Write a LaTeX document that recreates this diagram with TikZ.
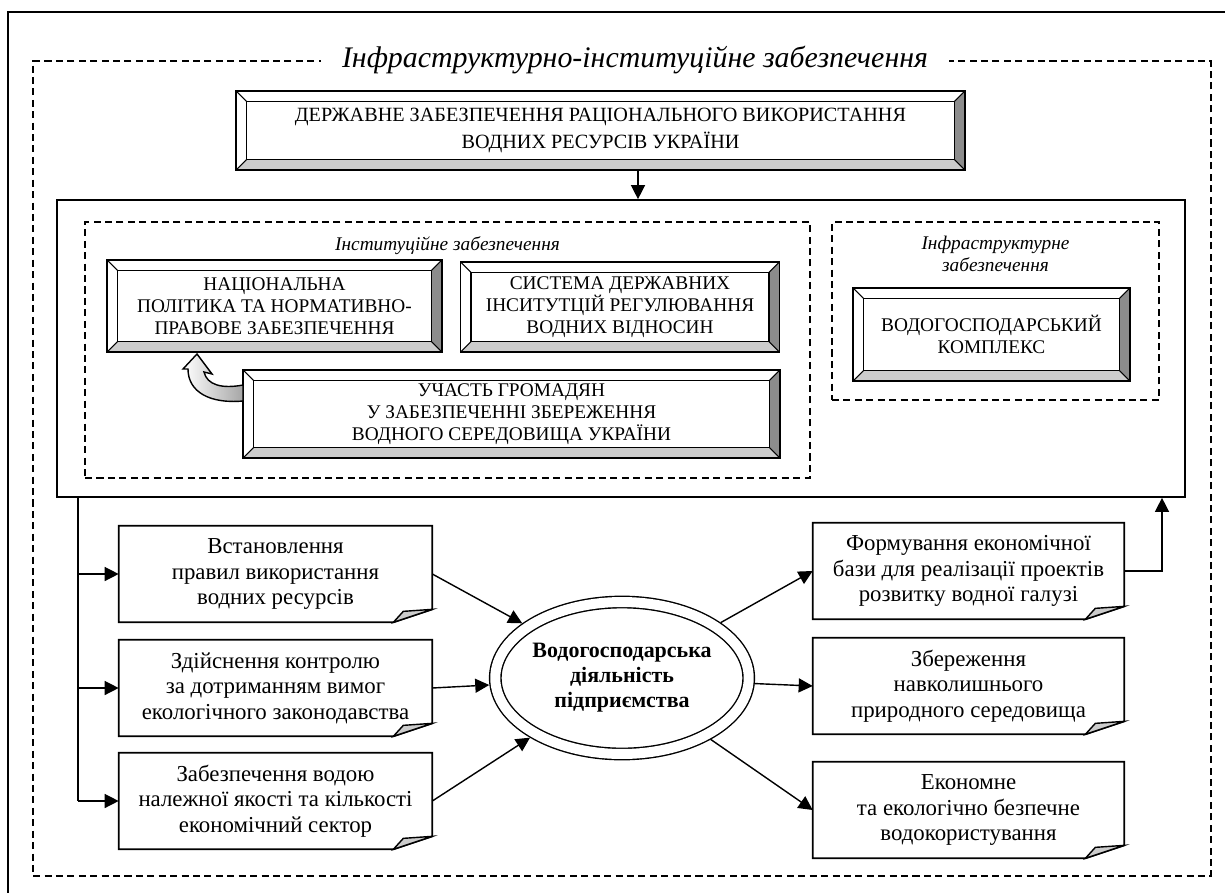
\documentclass[tikz,border=0pt]{standalone}
\usepackage{fontspec}
\setmainfont{Liberation Serif}
\usetikzlibrary{arrows.meta, positioning, shapes.geometric}

\begin{document}
\begin{tikzpicture}[x=0.02cm, y=-0.02cm,
    bevel/.style={draw, line width=1pt, inner sep=0pt, align=center,
                  font=\fontsize{11}{12.5}\selectfont,
                  path picture={
                    \coordinate (bsw) at (path picture bounding box.south west);
                    \coordinate (bse) at (path picture bounding box.south east);
                    \coordinate (bne) at (path picture bounding box.north east);
                    \coordinate (bnw) at (path picture bounding box.north west);
                    \fill[black!45] (bne) -- ++(-0.21cm,-0.21cm)
                      -- ([shift={(-0.21cm,0.21cm)}]bse) -- (bse) -- cycle;
                    \fill[black!20] (bse) -- ++(-0.21cm,0.21cm)
                      -- ([shift={(0.21cm,0.21cm)}]bsw) -- (bsw) -- cycle;
                    \draw[line width=0.8pt] ([shift={(0.21cm,0.21cm)}]bsw)
                      rectangle ([shift={(-0.21cm,-0.21cm)}]bne);
                    \draw[line width=0.6pt] (bsw) -- ++(0.21cm,0.21cm)
                      (bse) -- ++(-0.21cm,0.21cm) (bne) -- ++(-0.21cm,-0.21cm)
                      (bnw) -- ++(0.21cm,-0.21cm);
                  }},
    note/.style={inner sep=0pt, align=center, minimum width=6.26cm,
                 minimum height=1.92cm, font=\fontsize{13}{14.5}\selectfont},
    dbox/.style={draw, line width=0.9pt, dash pattern=on 4pt off 2.5pt,
                 inner sep=0pt},
    hdr/.style={align=center, font=\itshape\fontsize{11}{12.5}\selectfont},
    arr/.style={-{Triangle[length=2.8mm, width=2.8mm]}, line width=0.8pt},
  ]
    \useasboundingbox (0,0) rectangle (1225,893);
    \draw[line width=1pt] (8,893) |- (1225,12);

    % === Outer dashed frame ===
    \node[dbox, minimum width=23.56cm, minimum height=16.3cm] (frame) at (622,468.5) {};
    \node[fill=white, inner xsep=12pt, font=\itshape\fontsize{17}{20}\selectfont] (ttl)
      at (635,60) {Інфраструктурно-інституційне забезпечення};

    % Top box
    \node[bevel, minimum width=14.58cm, minimum height=1.58cm,
          font=\fontsize{11.5}{15}\selectfont] (ders) at (600.5,130.5)
      {ДЕРЖАВНЕ ЗАБЕЗПЕЧЕННЯ РАЦІОНАЛЬНОГО ВИКОРИСТАННЯ\\ВОДНИХ РЕСУРСІВ УКРАЇНИ};

    % Main box
    \node[draw, line width=1pt, inner sep=0pt, minimum width=22.56cm,
          minimum height=5.94cm] (main) at (621,348.5) {};
    \coordinate (ax) at (638,0);
    \draw[arr] (ders.south -| ax) -- (main.north -| ax);

    % === Institutional / infrastructure groups ===
    \node[dbox, minimum width=14.5cm, minimum height=5.12cm] (inst) at (447.5,350) {};
    \node[dbox, minimum width=6.54cm, minimum height=3.56cm] (infra) at (995.5,311) {};
    \node[hdr, below=5pt of inst.north] (instl) {Інституційне забезпечення};
    \node[hdr, below=5pt of infra.north] (infral) {Інфраструктурне\\забезпечення};

    \node[bevel, minimum width=6.7cm, minimum height=1.84cm] (nac) at (274.5,306)
      {НАЦІОНАЛЬНА\\ПОЛІТИКА ТА НОРМАТИВНО-\\ПРАВОВЕ ЗАБЕЗПЕЧЕННЯ};
    \node[bevel, minimum width=6.38cm, minimum height=1.8cm] (sys) at (620,307)
      {СИСТЕМА ДЕРЖАВНИХ\\ІНСИТУТЦІЙ РЕГУЛЮВАННЯ\\ВОДНИХ ВІДНОСИН};
    \node[bevel, minimum width=10.74cm, minimum height=1.76cm] (uch) at (511.5,414)
      {УЧАСТЬ ГРОМАДЯН\\У ЗАБЕЗПЕЧЕННІ ЗБЕРЕЖЕННЯ\\ВОДНОГО СЕРЕДОВИЩА УКРАЇНИ};
    \node[bevel, minimum width=5.54cm, minimum height=1.86cm] (vod) at (991.5,334.5)
      {ВОДОГОСПОДАРСЬКИЙ\\КОМПЛЕКС};

    % curved block arrow
    \shadedraw[line width=0.8pt, left color=white, middle color=white, right color=black!35]
      (243,401) .. controls (210,404) and (188,392) .. (188,369) -- (183,369)
      -- (197,354) -- (212,374) -- (204,372)
      .. controls (207,385) and (222,389) .. (243,385) -- cycle;

    % === Lower part ===
    \node[note] (vst) at (275.5,574) {Встановлення\\правил використання\\водних ресурсів};
    \node[note] (zd) at (275.5,688) {Здійснення контролю\\за дотриманням вимог\\екологічного законодавства};
    \node[note] (zab) at (275.5,801) {Забезпечення водою\\належної якості та кількості\\економічний сектор};

    \node[note, minimum width=6.22cm] (form) at (968.5,571)
      {Формування економічної\\бази для реалізації проектів\\розвитку водної галузі};
    \node[note, minimum width=6.22cm] (zber) at (968.5,686)
      {Збереження\\навколишнього\\природного середовища};
    \node[note, minimum width=6.22cm] (ek) at (968.5,810)
      {Економне\\та екологічно безпечне\\водокористування};

    \foreach \n in {vst,zd,zab,form,zber,ek}{
      \draw[line width=1pt] (\n.north west) -- (\n.north east)
        -- ([yshift=0.26cm]\n.south east) -- ([xshift=-0.78cm]\n.south east)
        -- (\n.south west) -- cycle;
      \filldraw[fill=black!20, line width=0.8pt] ([xshift=-0.78cm]\n.south east)
        -- ([shift={(-0.58cm,0.22cm)}]\n.south east) -- ([yshift=0.26cm]\n.south east) -- cycle;
    }

    \node[draw, ellipse, double, double distance=0.2cm, line width=0.8pt,
          minimum width=5.04cm, minimum height=3.04cm, inner sep=0pt, outer sep=0.13cm,
          align=center, font=\bfseries\fontsize{12.5}{14.2}\selectfont] (ell) at (622,678)
      {Водогосподарська\\діяльність\\підприємства};

    % arrows in / out
    \coordinate (lx) at (78,0);
    \draw[line width=0.8pt] (main.south -| lx) -- (lx |- zab.west);
    \foreach \n in {vst,zd,zab}
      \draw[arr] (lx |- \n.west) -- (\n.west);
    \foreach \n in {vst,zd,zab}
      \draw[arr] (\n.east) -- (ell);
    \foreach \n in {form,zber,ek}
      \draw[arr] (ell) -- (\n.west);

    \coordinate (rx) at (1162,0);
    \draw[arr] (form.east) -| (main.south -| rx);
  \end{tikzpicture}
\end{document}
